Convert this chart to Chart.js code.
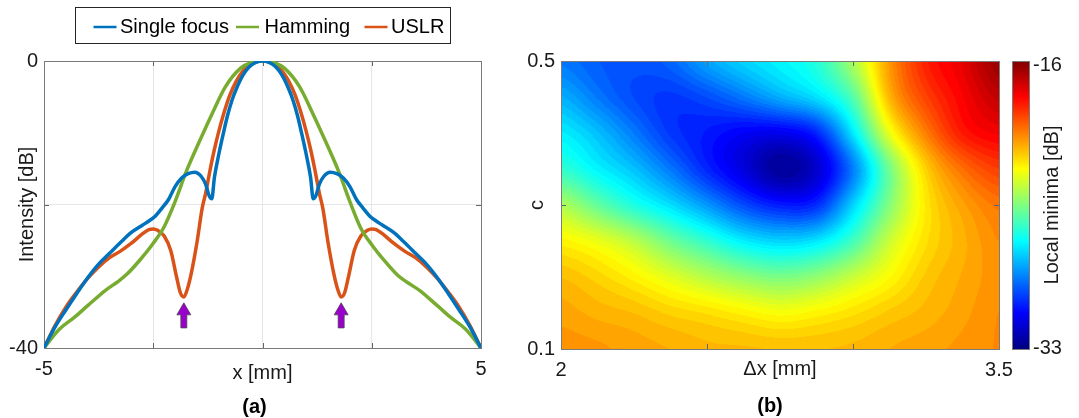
<!DOCTYPE html>
<html>
<head>
<meta charset="utf-8">
<script src="https://cdn.jsdelivr.net/npm/chart.js@4"></script>
<style>
  html, body { margin: 0; padding: 0; background: #fff; }
  #wrap { position: relative; width: 1079px; height: 418px; }
  #chartA { position: absolute; left: 0; top: 0; }
  #chartB { position: absolute; left: 520px; top: 0; }
</style>
</head>
<body>
<div id="wrap">
  <canvas id="chartA" width="520" height="418"></canvas>
  <canvas id="chartB" width="559" height="418"></canvas>
</div>
<script>
// ---- panel (a): beam profiles ----
const singleX = [-5, -4.75, -4.5, -4.25, -4, -3.75, -3.5, -3.25, -3, -2.75, -2.6, -2.45, -2.3, -2.15, -2, -1.85, -1.7, -1.55, -1.4, -1.3, -1.22, -1.16, -1.1, -1, -0.9, -0.8, -0.7, -0.6, -0.45, -0.3, -0.15, 0,
                 0.15, 0.3, 0.45, 0.6, 0.7, 0.8, 0.9, 1, 1.1, 1.16, 1.22, 1.3, 1.4, 1.55, 1.7, 1.85, 2, 2.15, 2.3, 2.45, 2.6, 2.75, 3, 3.25, 3.5, 3.75, 4, 4.25, 4.5, 4.75, 5];
const singleY = [-40, -37.1, -34.7, -32.4, -30.2, -28.3, -26.8, -25.3, -23.9, -22.9, -22.3, -21.6, -20.5, -19.3, -17.5, -16.3, -15.7, -15.5, -16.1, -17.2, -18.8, -19.2, -16.2, -13.0, -10.2, -7.6, -5.5, -3.9, -2.0, -0.8, -0.2, 0,
                 -0.2, -0.8, -2.0, -3.9, -5.5, -7.6, -10.2, -13.0, -16.2, -19.2, -18.8, -17.2, -16.1, -15.5, -15.7, -16.3, -17.5, -19.3, -20.5, -21.6, -22.3, -22.9, -23.9, -25.3, -26.8, -28.3, -30.2, -32.4, -34.7, -37.1, -40];

const hammingX = [-5, -4.65, -4.3, -4, -3.6, -3.3, -3.1, -2.8, -2.5, -2.25, -2, -1.75, -1.45, -1.15, -0.85, -0.5, -0.25, 0,
                  0.25, 0.5, 0.85, 1.15, 1.45, 1.75, 2, 2.25, 2.5, 2.8, 3.1, 3.3, 3.6, 4, 4.3, 4.65, 5];
const hammingY = [-40, -37.4, -35.7, -34.1, -32.0, -30.7, -29.7, -27.7, -25.4, -23.1, -19.6, -15.5, -11.3, -7.3, -3.6, -1.0, -0.2, 0,
                  -0.2, -1.0, -3.6, -7.3, -11.3, -15.5, -19.6, -23.3, -25.6, -27.9, -29.9, -30.8, -32.0, -34.1, -35.7, -37.4, -40];

const uslrX = [-5, -4.75, -4.5, -4.25, -4, -3.75, -3.5, -3.25, -3, -2.75, -2.6, -2.5, -2.4, -2.25, -2.1, -1.97, -1.88, -1.8, -1.72, -1.63, -1.5, -1.38, -1.3, -1.2, -1.1, -1, -0.9, -0.75, -0.6, -0.45, -0.3, -0.15, 0,
               0.15, 0.3, 0.45, 0.6, 0.75, 0.9, 1, 1.1, 1.2, 1.3, 1.38, 1.5, 1.63, 1.72, 1.8, 1.88, 1.97, 2.1, 2.25, 2.4, 2.5, 2.6, 2.75, 3, 3.25, 3.5, 3.75, 4, 4.25, 4.5, 4.75, 5];
const uslrY = [-40, -36.9, -34.3, -32.2, -30.3, -28.7, -27.4, -26.5, -25.4, -24.1, -23.5, -23.4, -23.6, -24.4, -26.4, -30.0, -32.3, -32.9, -31.8, -29.6, -25.3, -20.5, -18.4, -15.2, -12.3, -9.8, -7.6, -4.8, -2.8, -1.4, -0.5, -0.1, 0,
               -0.1, -0.5, -1.4, -2.8, -4.8, -7.6, -9.8, -12.3, -15.2, -18.4, -20.5, -25.3, -29.6, -31.8, -32.9, -32.3, -30.0, -26.4, -24.4, -23.6, -23.4, -23.5, -24.1, -25.4, -26.5, -27.4, -28.7, -30.3, -32.2, -34.3, -36.9, -40];

const seriesNames = ['Single focus', 'Hamming', 'USLR'];
const seriesColors = ['#0072BD', '#77AC30', '#D95319'];

const xTicksA = [-5, -2.5, 0, 2.5, 5];
const xLabelsA = ['-5', '', '', '', '5'];
const yTicksA = [-40, -20, 0];
const yLabelsA = ['-40', '', '0'];

// arrows marking the USLR nulls
const arrowX = [-1.8, 1.8];
const arrowTip = -33.7;
const arrowBase = -37.2;

// ---- panel (b): local minima map ----
const dxValues = [2, 2.125, 2.25, 2.375, 2.5, 2.625, 2.75, 2.875, 3, 3.125, 3.25, 3.375, 3.5];
const cValues = [0.5, 0.45, 0.4, 0.35, 0.3, 0.25, 0.2, 0.15, 0.1];
const minimaRows = [
  [-28.9, -29.3, -29.5, -29.1, -28.0, -27.2, -26.7, -26.0, -23.8, -20.6, -18.6, -17.8, -16.4],
  [-27.9, -28.9, -29.7, -30.0, -29.6, -28.8, -27.8, -27.0, -25.3, -21.0, -19.2, -18.1, -17.1],
  [-26.8, -27.6, -28.8, -30.0, -30.5, -31.0, -31.2, -30.5, -27.0, -22.6, -20.2, -18.5, -18.0],
  [-25.8, -26.8, -27.6, -28.9, -30.3, -31.5, -32.8, -31.9, -29.0, -24.8, -21.6, -20.0, -19.1],
  [-23.7, -25.0, -26.2, -27.1, -28.3, -29.7, -30.5, -30.3, -27.3, -24.5, -22.0, -20.9, -20.1],
  [-22.2, -22.7, -23.5, -24.8, -25.8, -26.9, -27.3, -27.0, -25.6, -23.2, -21.9, -21.1, -20.5],
  [-21.3, -21.7, -22.2, -22.9, -23.6, -24.2, -24.6, -24.2, -23.3, -22.4, -21.5, -21.0, -20.6],
  [-20.9, -21.1, -21.3, -21.6, -21.8, -22.1, -22.5, -22.2, -21.9, -21.5, -21.2, -20.9, -20.5],
  [-20.6, -20.7, -20.9, -21.0, -21.2, -21.2, -21.3, -21.3, -21.2, -21.0, -20.9, -20.7, -20.5]
];
const dxTicks = [2, 2.5, 3, 3.5];
const dxLabels = ['2', '', '', '3.5'];
const cTicks = [0.1, 0.3, 0.5];
const cLabels = ['0.1', '', '0.5'];
const cbarMin = -33;
const cbarMax = -16;
const cbarLabels = ['-16', '-33'];
const contourLevels = 64;

const FONT = "'Liberation Sans', Arial, Helvetica, sans-serif";
Chart.defaults.font.family = FONT;
Chart.defaults.font.size = 20;
Chart.defaults.color = '#1a1a1a';

function pts(xs, ys) {
    return xs.map((x, i) => ({ x: x, y: ys[i] }));
}

// MATLAB-like jet colour map, t in 0..1
function jetT(t) {
    t = Math.max(0, Math.min(1, t));
    const c = k => Math.round(255 * Math.max(0, Math.min(1, 1.5 - Math.abs(4 * t - k))));
    return [c(3), c(2), c(1)];
}

function setTicks(values) {
    return scale => { scale.ticks = values.map(v => ({ value: v })); };
}

// box round the axes plus the small inward tick marks
const boxPlugin = {
    id: 'box',
    beforeDatasetsDraw(chart) {
        const { ctx, chartArea: a, scales } = chart;
        ctx.save();
        ctx.strokeStyle = '#666';
        ctx.lineWidth = 1;
        ctx.beginPath();
        scales.x.ticks.forEach(t => {
            if (t.value === scales.x.min || t.value === scales.x.max) return;
            const px = Math.round(scales.x.getPixelForValue(t.value)) + 0.5;
            ctx.moveTo(px, a.bottom); ctx.lineTo(px, a.bottom - 5);
            ctx.moveTo(px, a.top); ctx.lineTo(px, a.top + 5);
        });
        scales.y.ticks.forEach(t => {
            if (t.value === scales.y.min || t.value === scales.y.max) return;
            const py = Math.round(scales.y.getPixelForValue(t.value)) + 0.5;
            ctx.moveTo(a.left, py); ctx.lineTo(a.left + 5, py);
            ctx.moveTo(a.right, py); ctx.lineTo(a.right - 5, py);
        });
        ctx.stroke();
        ctx.strokeStyle = '#7a7a7a';
        ctx.strokeRect(Math.round(a.left) + 0.5, Math.round(a.top) + 0.5,
                       Math.round(a.right - a.left), Math.round(a.bottom - a.top));
        ctx.restore();
    }
};

const legendAndArrows = {
    id: 'legendAndArrows',
    afterDatasetsDraw(chart) {
        const { ctx, scales } = chart;
        const xs = scales.x, ys = scales.y;
        ctx.save();
        // arrows
        arrowX.forEach(ax => {
            const cx = xs.getPixelForValue(ax);
            const tip = ys.getPixelForValue(arrowTip);
            const base = ys.getPixelForValue(arrowBase);
            const neck = tip + (base - tip) * 0.48;
            ctx.beginPath();
            ctx.moveTo(cx, tip);
            ctx.lineTo(cx + 7, neck);
            ctx.lineTo(cx + 3, neck);
            ctx.lineTo(cx + 3, base);
            ctx.lineTo(cx - 3, base);
            ctx.lineTo(cx - 3, neck);
            ctx.lineTo(cx - 7, neck);
            ctx.closePath();
            ctx.fillStyle = '#9900CC';
            ctx.fill();
            ctx.strokeStyle = '#4a4a4a';
            ctx.lineWidth = 0.8;
            ctx.stroke();
        });
        // legend box
        ctx.strokeStyle = '#262626';
        ctx.lineWidth = 1;
        ctx.strokeRect(75.5, 7.5, 375, 36);
        const lineStart = [93.5, 236, 364.5];
        const textStart = [120, 264.5, 391];
        ctx.font = '20px ' + FONT;
        ctx.textBaseline = 'middle';
        ctx.fillStyle = '#000';
        chart.data.datasets.forEach((ds, i) => {
            ctx.beginPath();
            ctx.strokeStyle = ds.borderColor;
            ctx.lineWidth = 2.5;
            ctx.moveTo(lineStart[i], 27);
            ctx.lineTo(lineStart[i] + 23, 27);
            ctx.stroke();
            ctx.fillText(ds.label, textStart[i], 27.5);
        });
        ctx.restore();
    },
    afterDraw(chart) {
        const { ctx, chartArea: a } = chart;
        ctx.save();
        ctx.font = 'bold 20px ' + FONT;
        ctx.fillStyle = '#000';
        ctx.textAlign = 'center';
        ctx.textBaseline = 'middle';
        ctx.fillText('(a)', (a.left + a.right) / 2 - 8, 407);
        ctx.restore();
    }
};

const lineDatasets = [
    [singleX, singleY],
    [hammingX, hammingY],
    [uslrX, uslrY]
].map((s, i) => ({
    label: seriesNames[i],
    data: pts(s[0], s[1]),
    borderColor: seriesColors[i],
    backgroundColor: seriesColors[i],
    showLine: true,
    borderWidth: 3.5,
    pointRadius: 0,
    cubicInterpolationMode: 'monotone',
    borderCapStyle: 'round',
    borderJoinStyle: 'round'
}));

new Chart(document.getElementById('chartA'), {
    type: 'scatter',
    data: { datasets: lineDatasets },
    options: {
        responsive: false,
        animation: false,
        layout: { padding: { top: 61, right: 39, bottom: 30, left: 0 } },
        plugins: { legend: { display: false }, tooltip: { enabled: false } },
        scales: {
            x: {
                type: 'linear', min: -5, max: 5,
                afterBuildTicks: setTicks(xTicksA),
                afterFit: s => { s.height = 40; },
                ticks: { callback: (v, i) => xLabelsA[i], padding: 9, maxRotation: 0, autoSkip: false },
                grid: { color: '#e6e6e6', drawTicks: false },
                border: { display: false },
                title: { display: true, text: 'x [mm]', padding: { top: 0, bottom: 3 } }
            },
            y: {
                type: 'linear', min: -40, max: 0,
                afterBuildTicks: setTicks(yTicksA),
                afterFit: s => { s.width = 44; },
                ticks: { callback: (v, i) => yLabelsA[i], padding: 6, autoSkip: false },
                grid: { color: '#e6e6e6', drawTicks: false },
                border: { display: false },
                title: { display: true, text: 'Intensity [dB]', padding: { top: 15.5, bottom: 0 } }
            }
        }
    },
    plugins: [boxPlugin, legendAndArrows]
});

// ---- panel (b) ----
const heatPoints = [];
cValues.forEach((c, r) => dxValues.forEach((dx, k) => heatPoints.push({ x: dx, y: c, v: minimaRows[r][k] })));

const heatPlugin = {
    id: 'heat',
    beforeDatasetsDraw(chart) {
        const { ctx, chartArea: a, scales } = chart;
        const cols = dxValues.length, rows = cValues.length;
        // grid values written as grey levels, scaled by the canvas, coloured afterwards
        const small = document.createElement('canvas');
        small.width = cols; small.height = rows;
        const sctx = small.getContext('2d');
        const img = sctx.createImageData(cols, rows);
        chart.data.datasets[0].data.forEach(p => {
            const k = dxValues.indexOf(p.x), r = cValues.indexOf(p.y);
            const g = Math.round(255 * (p.v - cbarMin) / (cbarMax - cbarMin));
            const o = (r * cols + k) * 4;
            img.data[o] = g; img.data[o + 1] = g; img.data[o + 2] = g; img.data[o + 3] = 255;
        });
        sctx.putImageData(img, 0, 0);

        const hx = (dxValues[1] - dxValues[0]) / 2;
        const hy = (cValues[0] - cValues[1]) / 2;
        const x0 = scales.x.getPixelForValue(dxValues[0] - hx);
        const x1 = scales.x.getPixelForValue(dxValues[cols - 1] + hx);
        const y0 = scales.y.getPixelForValue(cValues[0] + hy);
        const y1 = scales.y.getPixelForValue(cValues[rows - 1] - hy);
        const W = Math.round(x1 - x0), H = Math.round(y1 - y0);
        const big = document.createElement('canvas');
        big.width = W; big.height = H;
        const bctx = big.getContext('2d');
        bctx.imageSmoothingEnabled = true;
        bctx.imageSmoothingQuality = 'high';
        bctx.drawImage(small, 0, 0, W, H);
        const pix = bctx.getImageData(0, 0, W, H);
        for (let i = 0; i < pix.data.length; i += 4) {
            let t = pix.data[i] / 255;
            t = Math.min(contourLevels - 1, Math.floor(t * contourLevels)) / (contourLevels - 1);
            const [R, G, B] = jetT(t);
            pix.data[i] = R; pix.data[i + 1] = G; pix.data[i + 2] = B; pix.data[i + 3] = 255;
        }
        bctx.putImageData(pix, 0, 0);

        ctx.save();
        ctx.beginPath();
        ctx.rect(a.left, a.top, a.right - a.left, a.bottom - a.top);
        ctx.clip();
        ctx.drawImage(big, x0, y0, x1 - x0, y1 - y0);
        ctx.restore();
    },
    afterDraw(chart) {
        const { ctx, chartArea: a } = chart;
        ctx.save();
        // colour bar
        const bx = a.right + 13, bw = 17;
        const g = ctx.createLinearGradient(0, a.bottom, 0, a.top);
        [0, 0.125, 0.375, 0.625, 0.875, 1].forEach(t => {
            const [R, G, B] = jetT(t);
            g.addColorStop(t, `rgb(${R},${G},${B})`);
        });
        ctx.fillStyle = g;
        ctx.fillRect(bx, a.top, bw, a.bottom - a.top);
        ctx.strokeStyle = '#7a7a7a';
        ctx.lineWidth = 1;
        ctx.strokeRect(Math.round(bx) + 0.5, Math.round(a.top) + 0.5, bw, Math.round(a.bottom - a.top));
        ctx.fillStyle = '#1a1a1a';
        ctx.font = '20px ' + FONT;
        ctx.textAlign = 'left';
        ctx.textBaseline = 'middle';
        ctx.fillText(cbarLabels[0], bx + bw + 4, a.top + 4);
        ctx.fillText(cbarLabels[1], bx + bw + 4, a.bottom - 1);
        ctx.translate(bx + bw + 23, (a.top + a.bottom) / 2);
        ctx.rotate(-Math.PI / 2);
        ctx.textAlign = 'center';
        ctx.fillText('Local minima [dB]', 0, 0);
        ctx.restore();
        ctx.save();
        ctx.font = 'bold 20px ' + FONT;
        ctx.fillStyle = '#000';
        ctx.textAlign = 'center';
        ctx.textBaseline = 'middle';
        ctx.fillText('(b)', (a.left + a.right) / 2 - 10, 406);
        ctx.restore();
    }
};

new Chart(document.getElementById('chartB'), {
    type: 'scatter',
    data: { datasets: [{ label: 'Local minima', data: heatPoints, pointRadius: 0, showLine: false }] },
    options: {
        responsive: false,
        animation: false,
        layout: { padding: { top: 61, right: 80, bottom: 29, left: 0 } },
        plugins: { legend: { display: false }, tooltip: { enabled: false } },
        scales: {
            x: {
                type: 'linear', min: 2, max: 3.5,
                afterBuildTicks: setTicks(dxTicks),
                afterFit: s => { s.height = 40; },
                ticks: { callback: (v, i) => dxLabels[i], padding: 9, maxRotation: 0, autoSkip: false },
                grid: { display: false, drawTicks: false },
                border: { display: false },
                title: { display: true, text: 'Δx [mm]', padding: { top: 0, bottom: 8 } }
            },
            y: {
                type: 'linear', min: 0.1, max: 0.5,
                afterBuildTicks: setTicks(cTicks),
                afterFit: s => { s.width = 41; },
                ticks: { callback: (v, i) => cLabels[i], padding: 6, autoSkip: false },
                grid: { display: false, drawTicks: false },
                border: { display: false },
                title: { display: true, text: 'c', padding: { top: 5, bottom: 0 } }
            }
        }
    },
    plugins: [heatPlugin, boxPlugin]
});
</script>
</body>
</html>
